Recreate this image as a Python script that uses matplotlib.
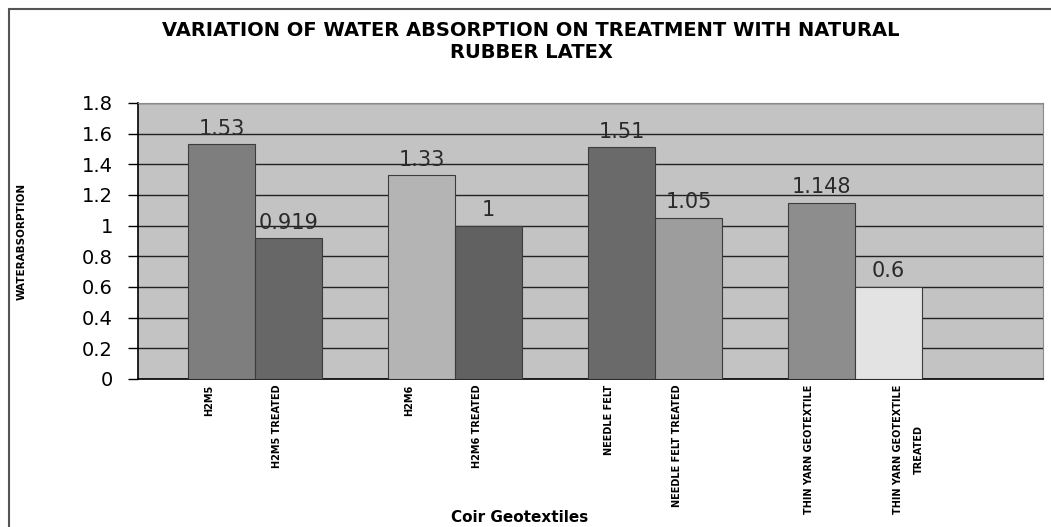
import numpy as np
import matplotlib
matplotlib.use("Agg")
import matplotlib.pyplot as plt
from matplotlib.patches import Rectangle

# Data ####################################################################
categories = ["H2M5", "H2M5 TREATED", "H2M6", "H2M6 TREATED",
              "NEEDLE FELT", "NEEDLE FELT TREATED",
              "THIN YARN GEOTEXTILE", "THIN YARN GEOTEXTILE\nTREATED"]
values = [1.53, 0.919, 1.33, 1.0, 1.51, 1.05, 1.148, 0.6]
value_labels = ["1.53", "0.919", "1.33", "1", "1.51", "1.05", "1.148", "0.6"]
bar_colors = ["#7e7e7e", "#676767", "#b4b4b4", "#616161",
              "#6a6a6a", "#9d9d9d", "#8d8d8d", "#e3e3e3"]
yticks = [0, 0.2, 0.4, 0.6, 0.8, 1.0, 1.2, 1.4, 1.6, 1.8]
ytick_labels = ["0", "0.2", "0.4", "0.6", "0.8", "1", "1.2", "1.4", "1.6", "1.8"]

# Layout ##################################################################
bar_w = 0.335
group = np.arange(len(values)) // 2
member = np.arange(len(values)) % 2
centers = group + 0.25 + member * bar_w + bar_w / 2
label_shift = np.array([-0.06] * 7 + [0.1])

fig = plt.figure(figsize=(10.51, 5.27), dpi=100)
fig.patch.set_facecolor("white")
ax = fig.add_axes([138 / 1051, 1 - 379 / 527, 905 / 1051, 276 / 527])
ax.set_facecolor("#c3c3c3")

ax.bar(centers, values, width=bar_w, color=bar_colors,
       edgecolor="#3c3c3c", linewidth=0.8, zorder=3)

for x, v, s in zip(centers, values, value_labels):
    ax.annotate(s, (x, v), xytext=(0, 4), textcoords="offset points",
                ha="center", va="bottom", fontsize=15, color="#2a2a2a",
                family="DejaVu Sans", zorder=4)

ax.set_xlim(0, 4.525)
ax.set_ylim(0, 1.8)
ax.set_yticks(yticks)
ax.set_yticklabels(ytick_labels, fontsize=14, family="DejaVu Sans")
ax.tick_params(axis="y", length=7, width=1, color="black", pad=11)
ax.yaxis.grid(True, color="#222222", linewidth=1)
ax.set_axisbelow(True)

ax.set_xticks(centers + label_shift)
ax.set_xticklabels(categories, rotation=90, fontsize=7, fontweight="bold",
                   va="top", ha="center", multialignment="center")
ax.get_xticklabels()[-1].set_linespacing(2.3)
ax.tick_params(axis="x", length=0, pad=4)

for side in ["left", "bottom"]:
    ax.spines[side].set_color("black")
    ax.spines[side].set_linewidth(1.2)
for side in ["top", "right"]:
    ax.spines[side].set_color("#8a8a8a")
    ax.spines[side].set_linewidth(0.8)

fig.text(531 / 1051, 1 - 41 / 527,
         "VARIATION OF WATER ABSORPTION ON TREATMENT WITH NATURAL\nRUBBER LATEX",
         ha="center", va="center", fontsize=14, fontweight="bold",
         linespacing=1.2)
fig.text(22 / 1051, 1 - 241 / 527, "WATERABSORPTION", rotation=90,
         ha="center", va="center", fontsize=7.5, fontweight="bold")
fig.text(520 / 1051, 1 - 517 / 527, "Coir Geotextiles",
         ha="center", va="center", fontsize=11, fontweight="bold")

# outer chart frame
fig.patches.append(Rectangle((9 / 1051, -0.05), 1.1, 1 - 9 / 527 + 0.05,
                             transform=fig.transFigure, fill=False,
                             edgecolor="#555555", linewidth=1.5))

fig.savefig("out.png", dpi=100)
